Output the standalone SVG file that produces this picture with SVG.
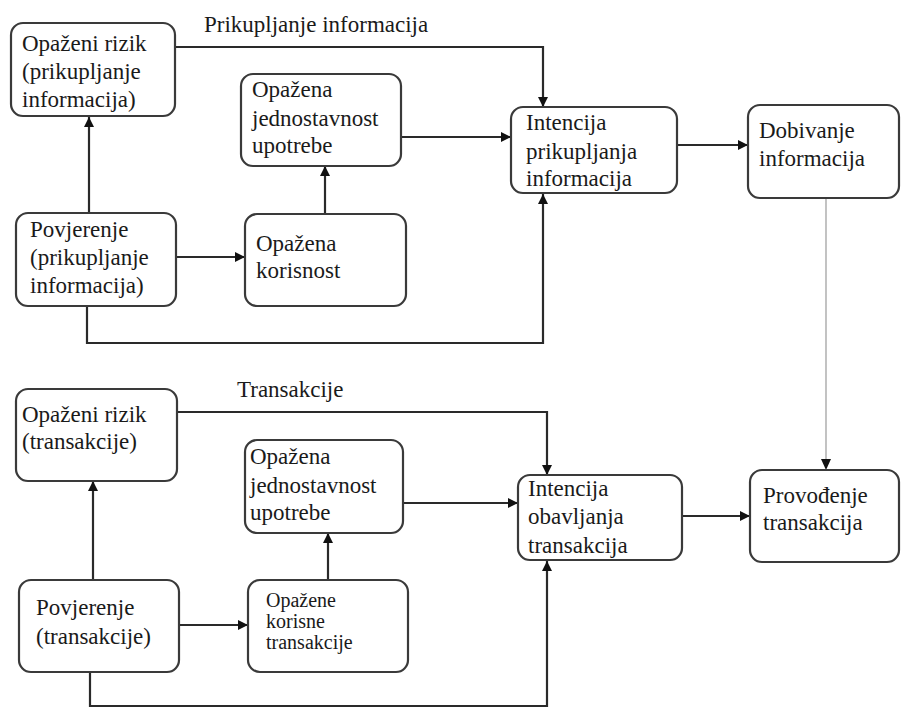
<svg xmlns="http://www.w3.org/2000/svg" width="901" height="708" viewBox="0 0 901 708">
<style>
.box{fill:#fff;stroke:#3a3a3a;stroke-width:2.2}
.t{font-family:'Liberation Serif','Tinos','Times New Roman','DejaVu Serif',serif;font-size:23px;fill:#1a1a1a}
.s{font-size:20px}
.c{fill:none;stroke:#2a2a2a;stroke-width:2.2}
.thin{fill:none;stroke:#9a9a9a;stroke-width:1.2}
</style>
<defs>
<marker id="ah" viewBox="0 0 10 10" refX="10" refY="5" markerWidth="10" markerHeight="10" markerUnits="userSpaceOnUse" orient="auto">
<path d="M0,0 L10,5 L0,10 z" fill="#111"/>
</marker>
</defs>
<rect width="901" height="708" fill="#fff"/>
<g id="connectors">
<path class="c" d="M175,47 H543 V107" marker-end="url(#ah)"/>
<path class="c" d="M401,137 H511" marker-end="url(#ah)"/>
<path class="c" d="M89,213 V117" marker-end="url(#ah)"/>
<path class="c" d="M176,257 H245" marker-end="url(#ah)"/>
<path class="c" d="M325,214 V166" marker-end="url(#ah)"/>
<path class="c" d="M87,306 V343 H543 V194" marker-end="url(#ah)"/>
<path class="c" d="M677,145 H748" marker-end="url(#ah)"/>
<path class="thin" d="M826,198 V460"/>
<path d="M821,459 L831,459 L826,470 z" fill="#111"/>
<path class="c" d="M177,412 H547 V475" marker-end="url(#ah)"/>
<path class="c" d="M403,503 H518" marker-end="url(#ah)"/>
<path class="c" d="M93,580 V481" marker-end="url(#ah)"/>
<path class="c" d="M179,625 H248" marker-end="url(#ah)"/>
<path class="c" d="M328,580 V533" marker-end="url(#ah)"/>
<path class="c" d="M90,672 V706 H547 V561" marker-end="url(#ah)"/>
<path class="c" d="M682,516 H750" marker-end="url(#ah)"/>
</g>
<g id="label-prikupljanje"><text class="t" x="204" y="32">Prikupljanje informacija</text></g>
<g id="label-transakcije"><text class="t" x="237" y="397">Transakcije</text></g>
<g id="rizik-info">
<rect class="box" x="11" y="23" width="164" height="93" rx="12"/>
<text class="t" x="22" y="51">Opaženi rizik</text>
<text class="t" x="22" y="79">(prikupljanje</text>
<text class="t" x="22" y="107">informacija)</text>
</g>
<g id="jednostavnost-info">
<rect class="box" x="241" y="74" width="160" height="92" rx="12"/>
<text class="t" x="252" y="97">Opažena</text>
<text class="t" x="252" y="126">jednostavnost</text>
<text class="t" x="252" y="153">upotrebe</text>
</g>
<g id="povjerenje-info">
<rect class="box" x="16" y="213" width="160" height="93" rx="12"/>
<text class="t" x="30" y="237">Povjerenje</text>
<text class="t" x="30" y="265">(prikupljanje</text>
<text class="t" x="30" y="293">informacija)</text>
</g>
<g id="korisnost-info">
<rect class="box" x="245" y="214" width="161" height="92" rx="12"/>
<text class="t" x="256" y="251">Opažena</text>
<text class="t" x="256" y="278">korisnost</text>
</g>
<g id="intencija-info">
<rect class="box" x="511" y="107" width="166" height="86" rx="12"/>
<text class="t" x="526" y="130">Intencija</text>
<text class="t" x="526" y="159">prikupljanja</text>
<text class="t" x="526" y="186">informacija</text>
</g>
<g id="dobivanje">
<rect class="box" x="748" y="105" width="151" height="93" rx="12"/>
<text class="t" x="759" y="138">Dobivanje</text>
<text class="t" x="759" y="166">informacija</text>
</g>
<g id="rizik-trans">
<rect class="box" x="16" y="389" width="161" height="92" rx="12"/>
<text class="t" x="22" y="422">Opaženi rizik</text>
<text class="t" x="22" y="449">(transakcije)</text>
</g>
<g id="jednostavnost-trans">
<rect class="box" x="245" y="440" width="158" height="93" rx="12"/>
<text class="t" x="250" y="464">Opažena</text>
<text class="t" x="250" y="493">jednostavnost</text>
<text class="t" x="250" y="520">upotrebe</text>
</g>
<g id="povjerenje-trans">
<rect class="box" x="19" y="580" width="160" height="92" rx="12"/>
<text class="t" x="36" y="615">Povjerenje</text>
<text class="t" x="36" y="644">(transakcije)</text>
</g>
<g id="korisne-trans">
<rect class="box" x="248" y="580" width="160" height="92" rx="12"/>
<text class="t s" x="266" y="607">Opažene</text>
<text class="t s" x="266" y="628">korisne</text>
<text class="t s" x="266" y="649">transakcije</text>
</g>
<g id="intencija-trans">
<rect class="box" x="518" y="475" width="164" height="85" rx="12"/>
<text class="t" x="528" y="496">Intencija</text>
<text class="t" x="528" y="524">obavljanja</text>
<text class="t" x="528" y="553">transakcija</text>
</g>
<g id="provodjenje">
<rect class="box" x="750" y="470" width="149" height="92" rx="12"/>
<text class="t" x="763" y="503">Provođenje</text>
<text class="t" x="763" y="530">transakcija</text>
</g>
</svg>
